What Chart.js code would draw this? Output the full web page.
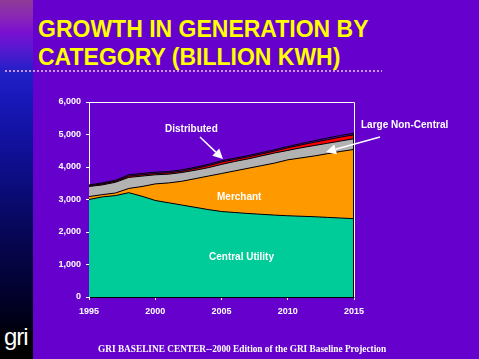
<!DOCTYPE html>
<html>
<head>
<meta charset="utf-8">
<script src="https://cdn.jsdelivr.net/npm/chart.js@4.4.1/dist/chart.umd.min.js"></script>
<style>
html, body { margin: 0; padding: 0; }
body {
    width: 479px; height: 359px; position: relative; overflow: hidden;
    background: #6600cc;
    font-family: "Liberation Sans", Arial, sans-serif;
}
#strip {
    position: absolute; left: 0; top: 0; width: 33px; height: 359px;
    background: linear-gradient(to bottom, #8e3c96 0px, #8a28b4 16px, #7a10d0 32px, #5a18d0 48px,
        #2020c8 72px, #1818b8 100px, #101098 150px, #0a0a70 200px, #05054a 250px,
        #020230 290px, #000018 320px, #000000 340px);
}
#chart { position: absolute; left: 0; top: 0; }
.title {
    position: absolute; left: 38px; top: 15px; margin: 0;
    color: #ffff00; font-weight: bold; font-size: 23px; line-height: 28px;
    white-space: nowrap;
}
#dots {
    position: absolute; left: 5px; top: 70px; width: 377px; height: 2px;
    background: repeating-linear-gradient(to right, #c896e6 0px, #c896e6 2px, transparent 2px, transparent 4px);
}
.lbl {
    position: absolute; color: #fff; font-weight: bold; font-size: 10px;
    line-height: 10px; white-space: nowrap;
}
#foot {
    position: absolute; left: 98px; top: 344px; color: #fff;
    font-family: "Liberation Serif", "Times New Roman", serif;
    font-weight: bold; font-size: 9.3px; line-height: 10px; white-space: nowrap;
}
#logo {
    position: absolute; left: 4px; top: 324px; color: #fff;
    font-size: 24px; line-height: 26px; letter-spacing: -1px;
}
</style>
</head>
<body>
<div id="strip"></div>
<div id="logo">gri</div>
<div class="title">GROWTH IN GENERATION BY<br>CATEGORY (BILLION KWH)</div>
<div id="dots"></div>
<canvas id="chart" width="479" height="359"></canvas>
<div class="lbl" style="left:165px;top:124px;">Distributed</div>
<div class="lbl" style="left:361px;top:120px;">Large Non-Central</div>
<div class="lbl" style="left:217px;top:192px;">Merchant</div>
<div class="lbl" style="left:209px;top:252px;">Central Utility</div>
<div id="foot">GRI BASELINE CENTER--2000 Edition of the GRI Baseline Projection</div>
<script>
// years 1995 - 2015, values in billion kWh
const anos = [1995, 1996, 1997, 1998, 1999, 2000, 2001, 2002, 2003, 2004, 2005,
              2006, 2007, 2008, 2009, 2010, 2011, 2012, 2013, 2014, 2015];
const centralUtility = [3000, 3080, 3120, 3210, 3100, 2970, 2900, 2830, 2760, 2690, 2630,
                        2600, 2570, 2545, 2520, 2500, 2485, 2470, 2450, 2430, 2410];
const merchant = [90, 70, 80, 130, 300, 510, 610, 730, 880, 1030, 1170,
                  1280, 1390, 1495, 1600, 1720, 1795, 1870, 1960, 2050, 2130];
const largeNonCentral = [310, 300, 330, 340, 320, 280, 270, 270, 260, 260, 280,
                         290, 290, 300, 310, 290, 310, 320, 320, 320, 330];
const distributed = [20, 30, 30, 40, 40, 40, 40, 40, 50, 60, 70,
                     60, 60, 60, 60, 80, 90, 100, 110, 120, 120];
const outros = [30, 30, 30, 40, 40, 40, 40, 40, 40, 40, 40,
                40, 40, 40, 40, 40, 40, 50, 50, 50, 50];
const yTicks = [0, 1000, 2000, 3000, 4000, 5000, 6000];
const xTicks = [1995, 2000, 2005, 2010, 2015];

function serie(label, valores, cor, fill) {
    return {
        label: label,
        data: anos.map((a, i) => ({x: a, y: valores[i]})),
        backgroundColor: cor,
        borderColor: '#000',
        borderWidth: 1,
        pointRadius: 0,
        tension: 0,
        fill: fill
    };
}

// white frame + black right edge of the stack
const moldura = {
    id: 'moldura',
    beforeDatasetsDraw(chart) {
        const a = chart.chartArea, c = chart.ctx;
        c.save();
        c.strokeStyle = '#fff';
        c.lineWidth = 1;
        c.beginPath();
        c.moveTo(a.left + 0.5, a.bottom);
        c.lineTo(a.left + 0.5, a.top + 0.5);
        c.lineTo(a.right + 0.5, a.top + 0.5);
        c.lineTo(a.right + 0.5, a.bottom + 0.5);
        c.stroke();
        c.restore();
    },
    afterDatasetsDraw(chart) {
        const a = chart.chartArea, c = chart.ctx, y = chart.scales.y;
        const n = anos.length - 1;
        const topo = centralUtility[n] + merchant[n] + largeNonCentral[n] + distributed[n] + outros[n];
        c.save();
        c.strokeStyle = '#000';
        c.beginPath();
        c.moveTo(a.right - 0.5, y.getPixelForValue(topo));
        c.lineTo(a.right - 0.5, a.bottom);
        c.stroke();
        // callout arrows
        seta(c, 200, 137, 223, 159);
        seta(c, 380, 137, 326, 152);
        c.restore();
    }
};

function seta(c, x1, y1, x2, y2) {
    const ang = Math.atan2(y2 - y1, x2 - x1);
    const len = 10, larg = 5;
    const bx = x2 - len * Math.cos(ang), by = y2 - len * Math.sin(ang);
    c.strokeStyle = '#fff';
    c.fillStyle = '#fff';
    c.lineWidth = 1.5;
    c.beginPath();
    c.moveTo(x1, y1);
    c.lineTo(bx, by);
    c.stroke();
    c.beginPath();
    c.moveTo(x2, y2);
    c.lineTo(bx + larg * Math.sin(ang), by - larg * Math.cos(ang));
    c.lineTo(bx - larg * Math.sin(ang), by + larg * Math.cos(ang));
    c.closePath();
    c.fill();
}

const data = {
    datasets: [
        serie('Central Utility', centralUtility, '#00cc99', 'origin'),
        serie('Merchant', merchant, '#ff9900', '-1'),
        serie('Large Non-Central', largeNonCentral, '#b2b2b2', '-1'),
        serie('Distributed', distributed, '#ff0000', '-1'),
        serie('Other', outros, '#6600cc', '-1')
    ]
};

const config = {
    type: 'line',
    data: data,
    options: {
        responsive: false,
        animation: false,
        layout: {autoPadding: false, padding: {left: 39, right: 125, top: 102, bottom: 40}},
        plugins: {legend: {display: false}, tooltip: {enabled: false}},
        scales: {
            x: {
                type: 'linear', min: 1995, max: 2015,
                afterFit(s) { s.height = 22; },
                afterBuildTicks(s) { s.ticks = xTicks.map(v => ({value: v})); },
                grid: {drawOnChartArea: false, drawTicks: true, tickLength: 3, tickColor: '#fff'},
                border: {color: '#000', width: 1},
                ticks: {
                    color: '#fff', padding: 6, maxRotation: 0,
                    font: {family: 'Liberation Sans', size: 9, weight: 'bold'},
                    callback: v => String(v)
                }
            },
            y: {
                stacked: true, min: 0, max: 6000,
                afterFit(s) { s.width = 50; },
                afterBuildTicks(s) { s.ticks = yTicks.map(v => ({value: v})); },
                grid: {drawOnChartArea: false, drawTicks: true, tickLength: 3, tickColor: '#fff'},
                border: {color: '#fff', width: 1},
                ticks: {
                    color: '#fff', padding: 5,
                    font: {family: 'Liberation Sans', size: 9, weight: 'bold'},
                    callback: v => v.toLocaleString('en-US')
                }
            }
        }
    },
    plugins: [moldura]
};

new Chart(document.getElementById('chart'), config);
</script>
</body>
</html>
